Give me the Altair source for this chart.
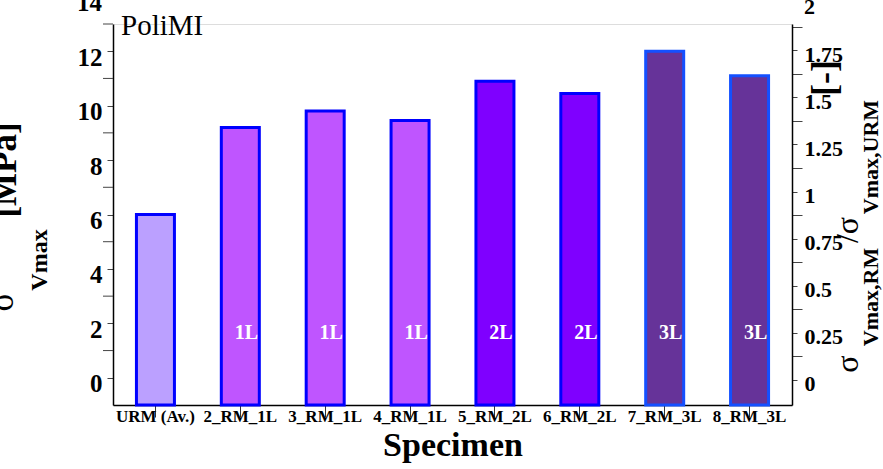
import altair as alt
import pandas as pd

categories = ["URM (Av.)", "2_RM_1L", "3_RM_1L", "4_RM_1L", "5_RM_2L", "6_RM_2L", "7_RM_3L", "8_RM_3L"]
values = [6.0, 9.2, 9.8, 9.45, 10.9, 10.45, 12.0, 11.1]
layer_labels = ["", "1L", "1L", "1L", "2L", "2L", "3L", "3L"]
fills = ["#BBA0FF", "#BF55FF", "#BF55FF", "#BF55FF", "#7F00FF", "#7F00FF", "#663399", "#663399"]
strokes = ["#0000FF", "#0000FF", "#0000FF", "#0000FF", "#0000FF", "#0000FF", "#1450FF", "#1450FF"]
label_pos = [1.65] * 8

left_major = [0, 2, 4, 6, 8, 10, 12]
left_minor = [1, 3, 5, 7, 9, 11, 13]
right_ticks = [i * 0.125 for i in range(0, 16)]

FONT = "Liberation Serif"

df = pd.DataFrame({
    "cat": categories, "val": values, "lbl": layer_labels,
    "fill": fills, "stroke": strokes, "ly": label_pos,
})

xenc = alt.X("cat:N", sort=categories,
             scale=alt.Scale(paddingInner=0, paddingOuter=0),
             axis=alt.Axis(title="Specimen", labelAngle=0, labelFont=FONT, labelFontWeight="bold",
                           labelFontSize=17, labelColor="black", tickSize=12, labelPadding=-9,
                           tickColor="#333", domainColor="black", domainWidth=1.5,
                           titleFont=FONT, titleFontSize=34, titleFontWeight="bold",
                           titleColor="black", titlePadding=4))

yscale = alt.Scale(domain=[-1, 13], nice=False, zero=False)
yaxis = alt.Axis(title=None, values=left_major, labelFont=FONT, labelFontWeight="bold",
                 labelFontSize=25, labelColor="black", labelPadding=5, labelOffset=6,
                 labelOverlap=False, tickSize=6,
                 tickColor="#444", domainColor="black", domainWidth=1.5, grid=False)

bars = alt.Chart(df).mark_bar(size=38, strokeWidth=3).encode(
    x=xenc,
    y=alt.Y("val:Q", scale=yscale, axis=yaxis),
    y2=alt.datum(-1),
    color=alt.Color("fill:N", scale=None),
    stroke=alt.Stroke("stroke:N", scale=None),
)

minor = alt.Chart(pd.DataFrame({"v": left_minor})).mark_rule(color="#444", strokeWidth=1).encode(
    y=alt.Y("v:Q"), x=alt.value(-10), x2=alt.value(0)
)

bar_text = alt.Chart(df).mark_text(font=FONT, fontWeight="bold", fontSize=20, color="white", dx=6).encode(
    x=alt.X("cat:N", sort=categories),
    y=alt.Y("ly:Q"),
    text="lbl:N",
)

clip_left = alt.Chart(pd.DataFrame({"v": [14], "t": ["14"]})).mark_text(
    font=FONT, fontWeight="bold", fontSize=25, align="right", baseline="middle", dy=6
).encode(y=alt.Y("v:Q"), x=alt.value(-11), text="t:N")

poli = alt.Chart(pd.DataFrame({"t": ["PoliMI"]})).mark_text(
    font=FONT, fontSize=29, align="left", baseline="alphabetic", color="black"
).encode(x=alt.value(8), y=alt.value(11), text="t:N")

def rot_text(t, x, y, size, bold=True, baseline="alphabetic"):
    return alt.Chart(pd.DataFrame({"t": [t]})).mark_text(
        font=FONT, fontSize=size, fontWeight="bold" if bold else "normal", angle=270,
        align="center", baseline=baseline, color="black"
    ).encode(x=alt.value(x), y=alt.value(y), text="t:N")

left_title = [
    rot_text("[MPa]", -97, 146, 35),
    rot_text("Vmax", -66, 236, 24),
    rot_text("σ", -100, 278, 35, bold=False),
]

right_title = [
    rot_text("σ", 745, 340, 32, bold=False),
    rot_text("Vmax,RM", 765, 273, 22),
    rot_text("/σ", 745, 206, 32, bold=False),
    rot_text("Vmax,URM", 765, 133, 22),
    rot_text("[-]", 723, 54, 36),
]

layer_a = alt.layer(bars, minor, bar_text, clip_left, poli, *left_title)

rscale = alt.Scale(domain=[-0.133, 1.889], nice=False, zero=False)
raxis = alt.Axis(orient="right", title=None, values=right_ticks, labelFont=FONT, labelFontWeight="bold",
                 labelFontSize=22, labelColor="black", labelPadding=7, labelOffset=4,
                 labelOverlap=False,
                 labelExpr="(datum.value * 8) % 2 == 0 ? '' + datum.value : ''",
                 tickSize={"condition": {"test": "(datum.value * 8) % 2 != 0", "value": 10}, "value": 5},
                 tickColor="#444", domainColor="black", domainWidth=1.5, grid=False)

right_clip = alt.Chart(pd.DataFrame({"v": [2], "t": ["2"]})).mark_text(
    font=FONT, fontWeight="bold", fontSize=22, align="left", baseline="middle", dy=4
).encode(y=alt.Y("v:Q", scale=rscale, axis=raxis), x=alt.value(691), text="t:N")

layer_b = alt.layer(right_clip, *right_title)

chart = alt.layer(layer_a, layer_b).resolve_scale(y="independent").properties(
    width=679, height=381,
    autosize=alt.AutoSizeParams(type="none"),
    padding={"left": 113, "top": 24, "right": 91, "bottom": 64},
).configure_view(stroke="black", strokeWidth=1.5).configure(background="white")

chart.save("out.html", embed_options={"renderer": "svg", "actions": False})
